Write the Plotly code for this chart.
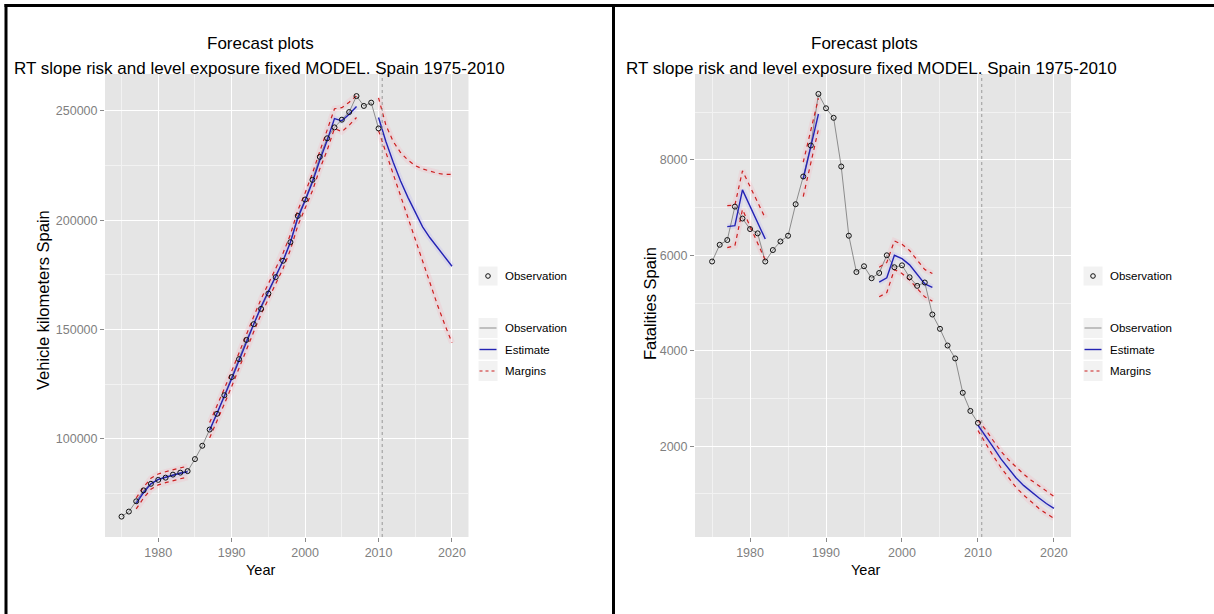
import plotly.graph_objects as go

# ---------------- data ----------------
obs_years = list(range(1975, 2011))

vkm_obs = [64500, 66800, 71500, 76500, 79500, 81300, 82300, 83700, 84600, 85300,
           90800, 96900, 104300, 111500, 120000, 128300, 136500, 145300, 152500, 159500,
           166500, 174000, 181500, 190000, 202000, 209500, 218500, 229000, 237500, 242500,
           246000, 249500, 256800, 252300, 253800, 242000]

fat_obs = [5870, 6220, 6320, 7020, 6770, 6550, 6460, 5870, 6110, 6290,
           6410, 7070, 7650, 8300, 9380, 9080, 8880, 7860, 6410, 5650,
           5770, 5520, 5630, 6000, 5750, 5790, 5540, 5360, 5430, 4760,
           4460, 4110, 3840, 3120, 2740, 2490]

# left panel: vehicle kilometres, estimate segments
vkm_seg_years = [list(range(1977, 1985)), list(range(1987, 2008)), list(range(2010, 2021))]
vkm_est = [
    [70500, 75500, 79500, 81500, 82500, 83500, 84300, 85000],
    [104000, 111500, 119500, 127500, 136000, 144500, 152500, 160500, 167500, 174500, 181500,
     190000, 201000, 209000, 217500, 227500, 236500, 246500, 245500, 248500, 252000],
    [247000, 236000, 226500, 218000, 210500, 203500, 197000, 192000, 187500, 183000, 179000],
]
vkm_upper = [
    [73000, 78000, 82000, 84000, 85000, 86000, 86800, 87500],
    [107500, 115000, 123000, 131000, 139500, 148000, 156000, 164000, 171000, 178000, 185000,
     193500, 204500, 212500, 221500, 231500, 241000, 251000, 251500, 254000, 257000],
    [256000, 243500, 236000, 231000, 227500, 225000, 223500, 222500, 221500, 221000, 221000],
]
vkm_lower = [
    [68000, 73000, 77000, 79000, 80000, 81000, 81800, 82500],
    [100500, 108000, 116000, 124000, 132500, 141000, 149000, 157000, 164000, 171000, 178000,
     186500, 197500, 205500, 213500, 223500, 232000, 242000, 240500, 243500, 247000],
    [241000, 231000, 221000, 211000, 200500, 190500, 180500, 171000, 161500, 152500, 144000],
]

# right panel: fatalities, estimate segments
fat_seg_years = [list(range(1977, 1983)), list(range(1987, 1990)),
                 list(range(1997, 2005)), list(range(2010, 2021))]
fat_est = [
    [6600, 6620, 7370, 7030, 6690, 6340],
    [7600, 8280, 8960],
    [5440, 5530, 6000, 5930, 5800, 5600, 5400, 5330],
    [2440, 2220, 1980, 1740, 1530, 1340, 1180, 1040, 920, 800, 700],
]
fat_upper = [
    [7040, 7050, 7770, 7440, 7110, 6780],
    [7950, 8620, 9290],
    [5750, 5850, 6300, 6230, 6100, 5900, 5700, 5620],
    [2550, 2350, 2120, 1900, 1720, 1560, 1420, 1290, 1170, 1060, 950],
]
fat_lower = [
    [6160, 6200, 6960, 6610, 6260, 5900],
    [7230, 7920, 8640],
    [5130, 5220, 5700, 5620, 5480, 5300, 5130, 5040],
    [2330, 2060, 1800, 1560, 1340, 1140, 980, 830, 700, 590, 490],
]

forecast_start = 2010.5
x_ticks = [1980, 1990, 2000, 2010, 2020]
title_1 = "Forecast plots"
title_2 = "RT slope risk and level exposure fixed MODEL. Spain 1975-2010"
legend_labels = ["Observation", "Observation", "Estimate", "Margins"]

# ---------------- styling ----------------
W, H = 1214, 614
FONT = "Liberation Sans, Arial, sans-serif"
C_OBS_LINE = "#8c8c8c"
C_EST = "#2323b4"
C_MARG = "#cc2020"
HALO_EST = "rgba(160,150,255,0.16)"
HALO_MARG = "rgba(255,150,170,0.16)"
PANEL_BG = "#E5E5E5"


def px(x):
    return x / W


def py(y):
    return 1 - y / H


fig = go.Figure()


def add_panel(xa, ya, obs, seg_years, est, upper, lower):
    # soft halos
    for yrs, e, up, lo in zip(seg_years, est, upper, lower):
        for series, col in ((up, HALO_MARG), (lo, HALO_MARG), (e, HALO_EST)):
            fig.add_trace(go.Scatter(x=yrs, y=series, mode="lines",
                                     line=dict(color=col, width=6), hoverinfo="skip",
                                     showlegend=False, xaxis=xa, yaxis=ya))
    # observation line
    fig.add_trace(go.Scatter(x=obs_years, y=obs, mode="lines",
                             line=dict(color=C_OBS_LINE, width=1),
                             showlegend=False, xaxis=xa, yaxis=ya))
    for yrs, e, up, lo in zip(seg_years, est, upper, lower):
        for series in (up, lo):
            fig.add_trace(go.Scatter(x=yrs, y=series, mode="lines",
                                     line=dict(color=C_MARG, width=1.2, dash="4px,4px"),
                                     showlegend=False, xaxis=xa, yaxis=ya))
        fig.add_trace(go.Scatter(x=yrs, y=e, mode="lines",
                                 line=dict(color=C_EST, width=1.4),
                                 showlegend=False, xaxis=xa, yaxis=ya))
    # observation points
    fig.add_trace(go.Scatter(x=obs_years, y=obs, mode="markers",
                             marker=dict(symbol="circle-open", size=5, color="#111111",
                                         line=dict(width=1)),
                             showlegend=False, xaxis=xa, yaxis=ya))


add_panel("x", "y", vkm_obs, vkm_seg_years, vkm_est, vkm_upper, vkm_lower)
add_panel("x2", "y2", fat_obs, fat_seg_years, fat_est, fat_upper, fat_lower)

ydom = [py(537), py(74)]
TICKFONT = dict(family=FONT, size=12.5, color="#7F7F7F")
common_x = dict(range=[1972.75, 2022.25], tickvals=x_ticks, showgrid=True,
                gridcolor="#FFFFFF", gridwidth=1.3, zeroline=False, showline=False,
                ticks="outside", ticklen=4, tickcolor="#8a8a8a", tickwidth=1,
                tickfont=TICKFONT,
                minor=dict(tick0=1975, dtick=10, showgrid=True, gridcolor="#F2F2F2",
                           gridwidth=0.8, ticks=""))
common_y = dict(showgrid=True, gridcolor="#FFFFFF", gridwidth=1.3, zeroline=False,
                showline=False, ticks="outside", ticklen=4, tickcolor="#8a8a8a",
                tickwidth=1, tickformat="d", tickfont=TICKFONT)

fig.update_layout(
    width=W, height=H, margin=dict(l=0, r=0, t=0, b=0),
    paper_bgcolor="white", plot_bgcolor=PANEL_BG, showlegend=False,
    xaxis=dict(domain=[px(105), px(468.5)], anchor="y", **common_x),
    yaxis=dict(domain=ydom, anchor="x", range=[55170, 266900], tick0=0, dtick=50000,
               minor=dict(tick0=0, dtick=25000, showgrid=True, gridcolor="#F2F2F2",
                          gridwidth=0.8, ticks=""), **common_y),
    xaxis2=dict(domain=[px(695), px(1071)], anchor="y2", **common_x),
    yaxis2=dict(domain=ydom, anchor="x2", range=[99, 9798], tick0=0, dtick=2000,
                minor=dict(tick0=0, dtick=1000, showgrid=True, gridcolor="#F2F2F2",
                           gridwidth=0.8, ticks=""), **common_y),
)

# forecast start reference lines
for xr, yr in (("x", "y"), ("x2", "y2")):
    fig.add_shape(type="line", xref=xr, yref=yr + " domain", x0=forecast_start,
                  x1=forecast_start, y0=0, y1=1,
                  line=dict(color="#9a9a9a", width=1, dash="dot"))

# outer frames
frame = dict(color="black", width=3)
fig.add_shape(type="line", xref="paper", yref="paper", x0=px(6), x1=px(6), y0=0, y1=py(4),
              line=frame)
fig.add_shape(type="line", xref="paper", yref="paper", x0=px(4.5), x1=1, y0=py(5.5),
              y1=py(5.5), line=frame)
fig.add_shape(type="line", xref="paper", yref="paper", x0=px(613.5), x1=px(613.5), y0=0,
              y1=py(4), line=frame)

annos = []


def text(x, y, s, size, anchor="center", color="black", angle=0):
    annos.append(dict(x=px(x), y=py(y), xref="paper", yref="paper", text=s,
                      showarrow=False, xanchor=anchor, yanchor="middle", textangle=angle,
                      font=dict(family=FONT, size=size, color=color)))


# titles
text(260, 43, title_1, 17)
text(12, 68, title_2, 17, anchor="left")
text(864, 43, title_1, 17)
text(624, 68, title_2, 17, anchor="left")

# axis titles
text(260, 570, "Year", 14.5)
text(865, 570, "Year", 14.5)
text(43, 300, "Vehicle kilometers Spain", 16.5, angle=-90)
text(650, 303, "Fatalities Spain", 16.5, angle=-90)


# legends
def legend(kx0, kx1, lx):
    kc = (kx0 + kx1) / 2
    fig.add_shape(type="rect", xref="paper", yref="paper", x0=px(kx0), x1=px(kx1),
                  y0=py(286), y1=py(266), fillcolor="#F2F2F2",
                  line=dict(color="white", width=1))
    fig.add_shape(type="circle", xref="paper", yref="paper", x0=px(kc - 2.3),
                  x1=px(kc + 2.3), y0=py(276 + 2.3), y1=py(276 - 2.3),
                  line=dict(color="#111111", width=1))
    text(lx, 276, legend_labels[0], 11.5, anchor="left")
    styles = [(C_OBS_LINE, "solid", 1), (C_EST, "solid", 1.4), (C_MARG, "3px,3px", 1.2)]
    for i, (col, dash, wdt) in enumerate(styles):
        yc = 328 + i * 21.5
        fig.add_shape(type="rect", xref="paper", yref="paper", x0=px(kx0), x1=px(kx1),
                      y0=py(yc + 10.5), y1=py(yc - 10.5), fillcolor="#F2F2F2",
                      line=dict(color="white", width=1))
        fig.add_shape(type="line", xref="paper", yref="paper", x0=px(kx0 + 1.5),
                      x1=px(kx1 - 1.5), y0=py(yc), y1=py(yc),
                      line=dict(color=col, width=wdt, dash=dash))
        text(lx, yc, legend_labels[i + 1], 11.5, anchor="left")


legend(478, 498, 503)
legend(1083, 1103, 1108)

fig.update_layout(annotations=annos)
fig.write_html("out.html", post_script="document.body.style.margin='0';",
               config={"displayModeBar": False})
